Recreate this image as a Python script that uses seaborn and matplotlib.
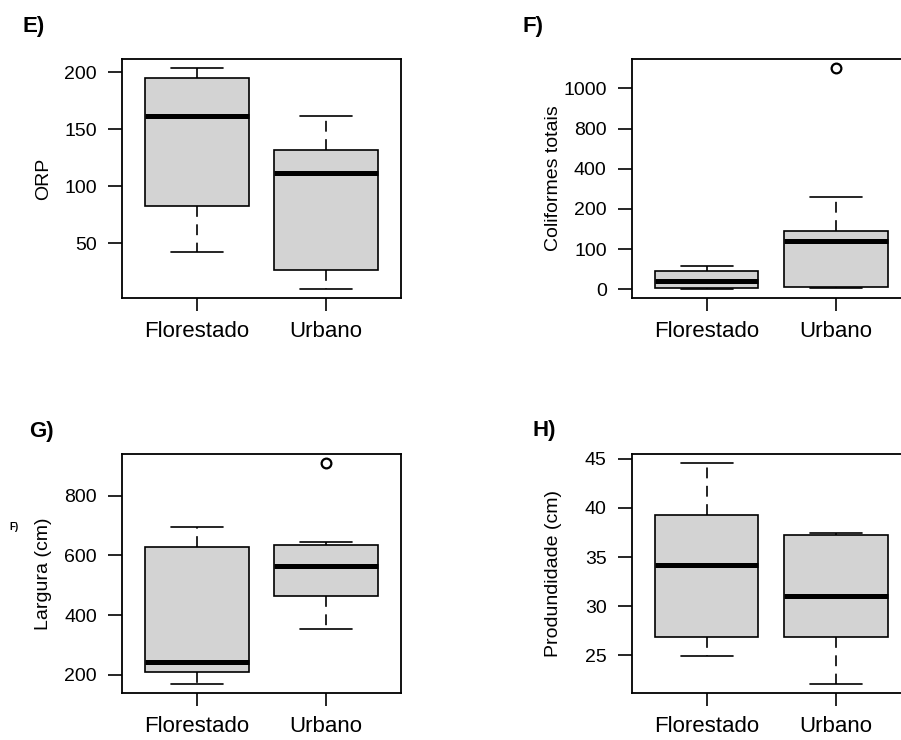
"""Boxplots E-H: Florestado vs Urbano."""

import numpy as np
import pandas as pd
import matplotlib
matplotlib.use("Agg")
import matplotlib.pyplot as plt
import seaborn as sns

# categories
groups = ["Florestado", "Urbano"]

# values (whisker low, Q1, median, Q3, whisker high, outliers)
orp_florestado = [42.7, 83.1, 161.4, 194.7, 203.8]
orp_urbano = [9.9, 26.3, 111.7, 132.2, 162.0]

coli_florestado = [0.7, 3.0, 21.0, 45.5, 59.0]
coli_urbano = [3.0, 6.5, 6.5, 120.0, 120.0, 145.0, 145.0, 260.0, 1102.0]

larg_florestado = [170.0, 208.0, 243.0, 629.0, 696.0]
larg_urbano = [352.0, 465.0, 465.0, 565.5, 565.5, 636.0, 636.0, 646.0, 911.0]

prof_florestado = [24.9, 26.83, 34.14, 39.3, 44.55]
prof_urbano = [22.12, 26.83, 30.99, 37.2, 37.49]

# tick labels
orp_ticks = [50, 100, 150, 200]
coli_ticks = [0, 100, 200, 400, 800, 1000]
larg_ticks = [200, 400, 600, 800]
prof_ticks = [25, 30, 35, 40, 45]

# the coliform axis puts its labels at equal steps
coli_breaks = [-100] + coli_ticks + [1200]
coli_steps = np.arange(len(coli_breaks)) - 1.0


def coli_forward(v):
    return np.interp(v, coli_breaks, coli_steps)


def coli_inverse(p):
    return np.interp(p, coli_steps, coli_breaks)


def make_frame(flor, urb):
    return pd.DataFrame({
        "grupo": [groups[0]] * len(flor) + [groups[1]] * len(urb),
        "valor": list(flor) + list(urb),
    })


sns.set_style("ticks")
plt.rcParams["font.family"] = ["Liberation Sans", "DejaVu Sans"]
plt.rcParams["text.color"] = "black"
plt.rcParams["axes.labelcolor"] = "black"

W, H = 901, 740
fig = plt.figure(figsize=(W / 100, H / 100), dpi=100)


def px_axes(left, top, right, bottom):
    return fig.add_axes([left / W, 1 - bottom / H, (right - left) / W, (bottom - top) / H])


panels = [
    # (axes px box, data, ylabel, ticks, ylim, letter, letter pos)
    ((122, 59, 401, 298), make_frame(orp_florestado, orp_urbano), "ORP",
     orp_ticks, (2.1, 211.6), "E)", (23, 32)),
    ((631.7, 59, 911, 297.7), make_frame(coli_florestado, coli_urbano), "Coliformes totais",
     coli_ticks, (-21, 1146), "F)", (522, 32)),
    ((122, 454, 401, 692.7), make_frame(larg_florestado, larg_urbano), "Largura (cm)",
     larg_ticks, (140, 940), "G)", (29, 437)),
    ((631.7, 454.3, 911, 692.7), make_frame(prof_florestado, prof_urbano), "Produndidade (cm)",
     prof_ticks, (21.2, 45.45), "H)", (532, 436)),
]

for box, df, ylabel, ticks, ylim, letter, lpos in panels:
    ax = px_axes(*box)
    if letter == "F)":
        ax.set_yscale("function", functions=(coli_forward, coli_inverse))
    sns.boxplot(
        data=df, x="grupo", y="valor", order=groups, ax=ax,
        color="#d3d3d3", saturation=1, width=0.8, linecolor="black", linewidth=1.2,
        boxprops={"edgecolor": "black"},
        medianprops={"color": "black", "linewidth": 3.6, "solid_capstyle": "butt"},
        whiskerprops={"color": "black", "linestyle": (0, (6.5, 4.5)), "linewidth": 1.2},
        capprops={"color": "black", "linewidth": 1.2},
        flierprops={"marker": "o", "markerfacecolor": "none", "markeredgecolor": "black",
                    "markersize": 7, "markeredgewidth": 1.6},
    )
    ax.set_xlim(-0.58, 1.58)
    ax.set_ylim(*ylim)
    ax.set_yticks(ticks)
    ax.set_yticklabels([str(t) for t in ticks])
    ax.set_xlabel("")
    ax.set_ylabel(ylabel, fontsize=14, color="black")
    width_px = box[2] - box[0]
    ax.yaxis.set_label_coords(-70 / width_px, 0.5)
    ax.tick_params(axis="y", labelsize=14, length=10, width=1.2, pad=8, colors="black")
    ax.tick_params(axis="x", labelsize=16, length=9.5, width=1.2, pad=7, colors="black")
    for side in ["left", "right", "top", "bottom"]:
        ax.spines[side].set_visible(True)
        ax.spines[side].set_linewidth(1.3)
        ax.spines[side].set_color("black")
    fig.text(lpos[0] / W, 1 - lpos[1] / H, letter, fontsize=16, fontweight="bold",
             ha="left", va="baseline", color="black")

# stray small label left of panel G
fig.text(9 / W, 1 - 530 / H, "F)", fontsize=7, fontweight="bold", ha="left",
         va="baseline", color="black")

fig.savefig("out.png", dpi=100)
